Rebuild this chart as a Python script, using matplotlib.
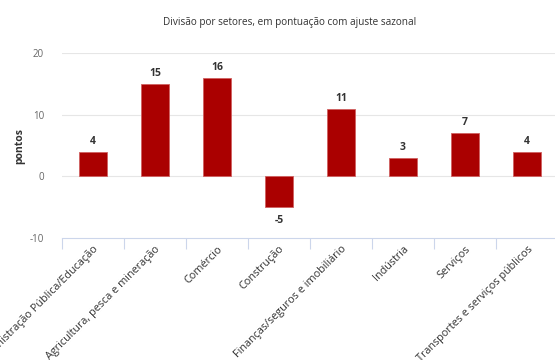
import matplotlib
matplotlib.use("Agg")
import matplotlib.pyplot as plt
import numpy as np

plt.rcParams['font.family'] = ['Open Sans', 'DejaVu Sans']

# --- dados ---
setores = [
    "Administração Pública/Educação",
    "Agricultura, pesca e mineração",
    "Comércio",
    "Construção",
    "Finanças/seguros e imobiliário",
    "Indústria",
    "Serviços",
    "Transportes e serviços públicos",
]
pontos = [4, 15, 16, -5, 11, 3, 7, 4]
y_ticks = [-10, 0, 10, 20]

BAR_COLOR = "#aa0000"

fig = plt.figure(figsize=(5.55, 3.6), dpi=100)
ax = fig.add_axes([62 / 555, 1 - 238 / 360, 496 / 555, 185 / 360])

x = np.arange(len(setores))
ax.bar(x, pontos, width=0.45, color=BAR_COLOR, edgecolor="#d06060", linewidth=0.6, zorder=3)

# rótulos dos valores
for xi, v in zip(x, pontos):
    if v >= 0:
        ax.text(xi, v + 0.8, str(v), ha="center", va="bottom", fontsize=7.5,
                fontweight="bold", color="#333333")
    else:
        ax.text(xi, v - 1.3, str(v), ha="center", va="top", fontsize=7.5,
                fontweight="bold", color="#333333")

ax.set_xlim(-0.5, len(setores) - 0.5)
ax.set_ylim(-10, 20)
ax.set_yticks(y_ticks)
ax.set_yticklabels([str(t) for t in y_ticks], fontsize=7, color="#666666")
ax.tick_params(axis="y", length=0, pad=13)
for t in y_ticks[1:]:
    ax.axhline(t, color="#e6e6e6", linewidth=0.8, zorder=1)

# eixo x: marcas nas fronteiras das categorias
ax.set_xticks(x)
ax.set_xticklabels(setores, rotation=45, ha="right", rotation_mode="anchor",
                   fontsize=7.8, color="#333333")
ax.tick_params(axis="x", length=0, pad=4)
ax.set_xticks(np.arange(-0.5, len(setores)), minor=True)
ax.tick_params(axis="x", which="minor", length=8, width=0.8, color="#ccd6eb")

for s in ["top", "right", "left"]:
    ax.spines[s].set_visible(False)
ax.spines["bottom"].set_color("#ccd6eb")
ax.spines["bottom"].set_linewidth(0.8)

ax.set_ylabel("pontos", fontsize=7.5, fontweight="bold", color="#333333")
ax.yaxis.set_label_coords(-0.075, 0.5)

fig.text(0.522, 1 - 23 / 360, "Divisão por setores, em pontuação com ajuste sazonal",
         ha="center", va="center", fontsize=7.2, color="#333333")

fig.savefig("out.png", dpi=100)
